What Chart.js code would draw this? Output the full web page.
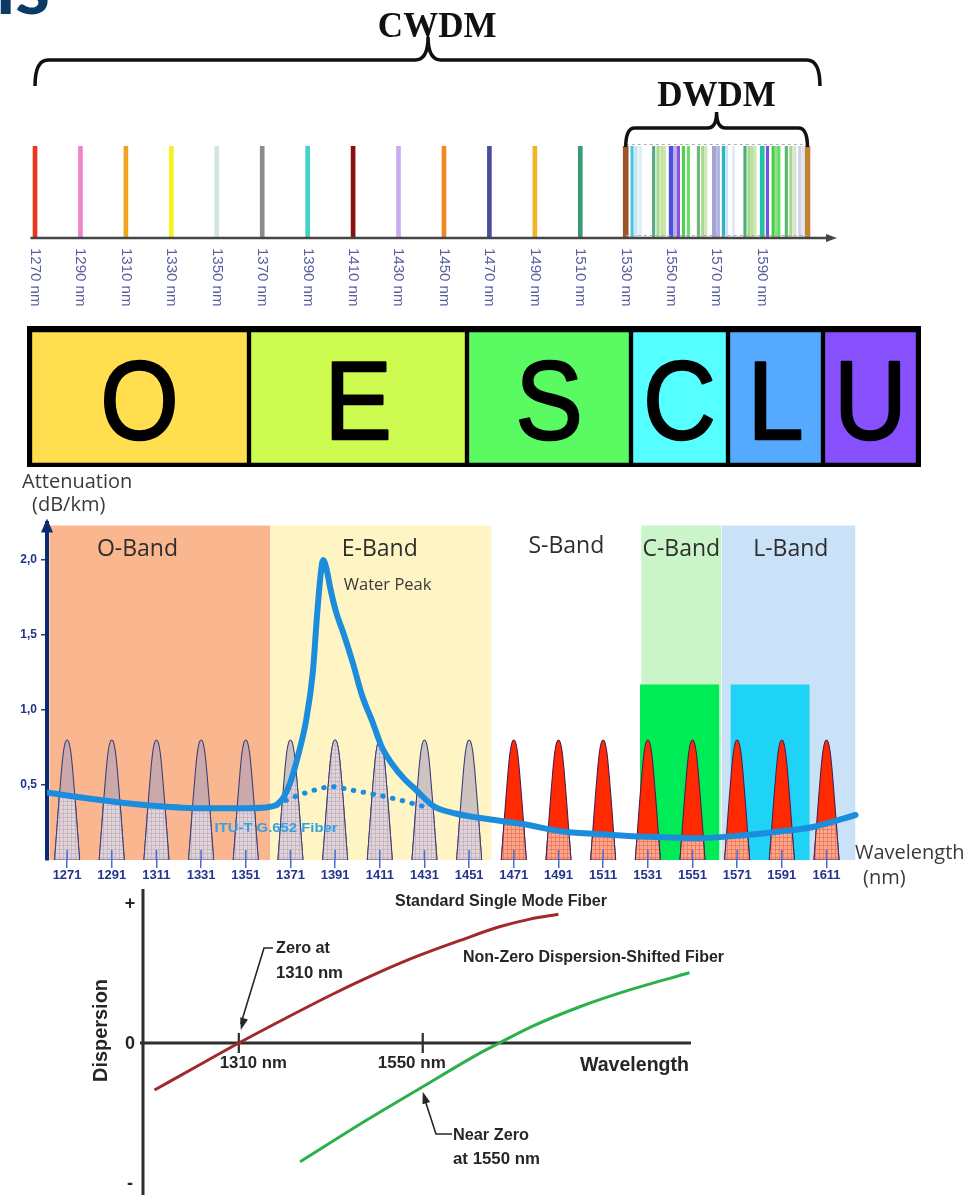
<!DOCTYPE html>
<html>
<head>
<meta charset="utf-8">
<title>Optical fiber wavelength bands</title>
<script src="https://cdn.jsdelivr.net/npm/chart.js@4.4.1/dist/chart.umd.min.js"></script>
<style>
  html, body { margin: 0; padding: 0; background: #ffffff; }
  #page { position: relative; width: 971px; height: 1195px; overflow: hidden; background: #ffffff; }
  #page canvas { position: absolute; left: 0; }
</style>
</head>
<body>
<div id="page">
  <canvas id="grid" width="971" height="320" style="top:0px"></canvas>
  <canvas id="bands" width="971" height="145" style="top:325px"></canvas>
  <canvas id="atten" width="971" height="425" style="top:470px"></canvas>
  <canvas id="disp" width="971" height="308" style="top:889px"></canvas>
</div>
<script>
// ---------- CWDM / DWDM channel grid ----------
const cwdmNm = [1270, 1290, 1310, 1330, 1350, 1370, 1390, 1410, 1430, 1450, 1470, 1490, 1510];
const cwdmColors = ['#e8361f', '#f083cc', '#f0a522', '#f6f21e', '#cfe6e2', '#8c8c8c', '#3fd2c9',
                    '#8a1010', '#c9adf0', '#ef8a1e', '#4b4c9a', '#f0b426', '#3a9a72'];
const gridTickNm = [1270, 1290, 1310, 1330, 1350, 1370, 1390, 1410, 1430, 1450, 1470, 1490, 1510,
                    1530, 1550, 1570, 1590];
const dwdmEdgeNm = [1530, 1610];
const dwdmEdgeColors = ['#9b5526', '#c08332'];
const dwdmNm = [1532.8, 1534.5, 1536.4, 1542.3, 1544.2, 1545.9, 1547.1, 1551.8, 1553.2, 1555.4,
                1557.6, 1562.0, 1563.9, 1565.2, 1570.8, 1573.0, 1574.4, 1577.4, 1582.5, 1584.3,
                1585.7, 1586.9, 1592.4, 1594.9, 1596.4, 1597.4, 1600.7, 1602.7, 1604.4, 1606.6, 1608.1];
const dwdmColors = ['#4cc6e0', '#bfe6f2', '#dcecf2', '#5aa97a', '#a9d88f', '#bfe3a0', '#cfe6a8',
                    '#b8b0ec', '#8b4ee0', '#4fd24f', '#66e066', '#6fb872', '#a8d890', '#cfe8b8',
                    '#b4b4e2', '#2fb2c4', '#c6e4f0', '#e4ecf4', '#4fae72', '#a8d890', '#b8e29a',
                    '#d0e8b8', '#7a50e0', '#3fd240', '#9ad890', '#5fe060', '#5cb870', '#a8d890',
                    '#d4e6c8', '#cfd0ee', '#e0e4f0'];
const dwdmWideNm = [1550.0, 1569.0, 1590.1];
const dwdmWideColors = ['#4c52e0', '#a3a3d6', '#22c3a5'];

// ---------- spectral band strip ----------
const bandLetters = ['O', 'E', 'S', 'C', 'L', 'U'];
const bandSpan = [2.19, 2.18, 1.64, 0.97, 0.95, 0.95];
const bandColors = ['#ffde4f', '#cdfb4f', '#5afa63', '#55ffff', '#55aaff', '#8750ff'];

// ---------- attenuation chart ----------
const channelNm = [1271, 1291, 1311, 1331, 1351, 1371, 1391, 1411, 1431, 1451,
                   1471, 1491, 1511, 1531, 1551, 1571, 1591, 1611];
const attenTickDb = [0.5, 1.0, 1.5, 2.0];
const peakDb = 0.8;
const peakOffsetNm = [-5.6, -4.6, -3.6, -2.5, -1.65, -0.8, 0, 0.8, 1.65, 2.5, 3.6, 4.6, 5.6];
const peakShape = [0, 0.25, 0.5, 0.75, 0.9, 0.98, 1, 0.98, 0.9, 0.75, 0.5, 0.25, 0];
const bandNames = ['O-Band', 'E-Band', 'S-Band', 'C-Band', 'L-Band'];
const bandFromNm = [1263, 1362, 1461, 1528, 1564];
const bandToNm = [1362, 1461, 1528, 1564, 1624];
const bandShade = ['#f9b68f', '#fef4c4', null, '#c9f5c9', '#c9e2f8'];
const bandTopDb = 2.23;
const bandLabelNm = [1302.5, 1411, 1494.5, 1546, 1595];
const bandLabelDb = [2.067, 2.067, 2.09, 2.067, 2.067];
const ampFromNm = [1527.5, 1568];
const ampToNm = [1563, 1603.5];
const ampTopDb = 1.17;
const ampColors = ['#00ec57', '#1fd3f7'];
const fiberNm = [1262, 1271, 1291, 1311, 1331, 1351, 1362, 1365, 1368, 1371, 1375, 1378, 1381,
                 1383, 1384.5, 1385.6, 1387, 1389, 1391.5, 1395, 1399, 1403, 1408, 1412, 1417,
                 1422, 1427, 1435, 1445, 1456, 1475, 1493, 1512, 1530, 1553, 1575, 1590, 1605, 1624];
const fiberDb = [0.45, 0.43, 0.39, 0.36, 0.345, 0.345, 0.355, 0.37, 0.42, 0.52, 0.73, 0.93, 1.25,
                 1.65, 1.9, 2.0, 1.95, 1.8, 1.65, 1.5, 1.31, 1.1, 0.91, 0.75, 0.63,
                 0.54, 0.47, 0.36, 0.31, 0.28, 0.24, 0.19, 0.17, 0.155, 0.145, 0.167, 0.19, 0.22, 0.30];
const lowWaterNm = [1365, 1368, 1375, 1383, 1389, 1398, 1410, 1420, 1431];
const lowWaterDb = [0.365, 0.39, 0.433, 0.471, 0.489, 0.467, 0.433, 0.40, 0.355];

// ---------- dispersion chart ----------
const ssmfNm = [1200, 1259, 1310, 1368, 1433, 1490, 1542, 1600, 1650, 1690, 1727];
const ssmfVal = [-0.336, -0.155, 0, 0.168, 0.35, 0.497, 0.618, 0.735, 0.83, 0.885, 0.919];
const nzdsfNm = [1390, 1477, 1550, 1624, 1650, 1690, 1755, 1820, 1898];
const nzdsfVal = [-0.848, -0.55, -0.312, -0.074, 0.0, 0.112, 0.259, 0.379, 0.502];
const dispTickNm = [1310, 1550];
const dispTickText = ['1310 nm', '1550 nm'];
const dispLevel = [1, 0, -1];
const dispLevelText = ['+', '0', '-'];

const SANS = 'Arial, "Liberation Sans", sans-serif';
const OPEN = '"Open Sans", "Noto Sans", sans-serif';
Chart.defaults.font.family = SANS;

// text squeezed horizontally into a given width (condensed look)
function fitText(ctx, text, left, midY, font, color, width) {
  ctx.save();
  ctx.font = font;
  ctx.fillStyle = color;
  ctx.textAlign = 'left';
  ctx.textBaseline = 'middle';
  const w = ctx.measureText(text).width;
  ctx.translate(left, midY);
  ctx.scale(width / w, 1);
  ctx.fillText(text, 0, 0);
  ctx.restore();
}

function brace(ctx, xa, xb, xm, yLine, yEnd, yTip, r) {
  ctx.beginPath();
  ctx.moveTo(xa, yEnd);
  ctx.quadraticCurveTo(xa, yLine, xa + r, yLine);
  ctx.lineTo(xm - r, yLine);
  ctx.quadraticCurveTo(xm, yLine, xm, yTip);
  ctx.quadraticCurveTo(xm, yLine, xm + r, yLine);
  ctx.lineTo(xb - r, yLine);
  ctx.quadraticCurveTo(xb, yLine, xb, yEnd);
  ctx.stroke();
}

function arrowHead(ctx, fromX, fromY, tipX, tipY, len, half) {
  const a = Math.atan2(tipY - fromY, tipX - fromX);
  ctx.beginPath();
  ctx.moveTo(tipX, tipY);
  ctx.lineTo(tipX - len * Math.cos(a) + half * Math.sin(a), tipY - len * Math.sin(a) - half * Math.cos(a));
  ctx.lineTo(tipX - len * Math.cos(a) - half * Math.sin(a), tipY - len * Math.sin(a) + half * Math.cos(a));
  ctx.closePath();
  ctx.fill();
}

const baseOptions = {
  responsive: false,
  animation: false,
  devicePixelRatio: 1,
  events: [],
  plugins: { legend: { display: false }, tooltip: { enabled: false } }
};

// ======================= 1. channel grid =======================
const gridDecor = {
  id: 'gridDecor',
  afterDraw(chart) {
    const ctx = chart.ctx;
    const px = v => chart.scales.x.getPixelForValue(v);
    const y0 = chart.scales.y.getPixelForValue(0);
    const y1 = chart.scales.y.getPixelForValue(1);
    ctx.save();

    // tail of the page heading above
    ctx.fillStyle = '#0c3a66';
    ctx.font = 'bold 80px Lato, "Open Sans", sans-serif';
    ctx.textBaseline = 'alphabetic';
    ctx.fillText('ns', -30, 14);

    // DWDM dashed frame
    ctx.setLineDash([3, 3]);
    ctx.strokeStyle = '#b4a9bd';
    ctx.lineWidth = 1.2;
    ctx.beginPath();
    ctx.moveTo(px(1530), y1 - 1.5); ctx.lineTo(px(1610), y1 - 1.5);
    ctx.moveTo(px(1530), y0 - 2.5); ctx.lineTo(px(1610), y0 - 2.5);
    ctx.stroke();
    ctx.setLineDash([]);

    // wavelength axis with arrow
    ctx.strokeStyle = '#454545';
    ctx.fillStyle = '#454545';
    ctx.lineWidth = 2.5;
    ctx.beginPath();
    ctx.moveTo(px(1268), y0);
    ctx.lineTo(px(1620), y0);
    ctx.stroke();
    arrowHead(ctx, px(1600), y0, px(1623), y0, 11, 4);

    // braces
    ctx.strokeStyle = '#111';
    ctx.lineWidth = 3.5;
    brace(ctx, px(1270), px(1615.5), px(1443), 60, 86, 37, 13);
    brace(ctx, px(1530), px(1610), px(1570), 128, 147, 112, 9);

    ctx.fillStyle = '#111';
    ctx.font = 'bold 35px "Liberation Serif", "Times New Roman", serif';
    ctx.textAlign = 'center';
    ctx.fillText('CWDM', px(1447), 37);
    ctx.fillText('DWDM', px(1570), 106);

    // channel labels, rotated to read top-down
    ctx.fillStyle = '#5b5f9e';
    ctx.font = '15px ' + SANS;
    ctx.textAlign = 'left';
    ctx.textBaseline = 'middle';
    gridTickNm.forEach(nm => {
      ctx.save();
      ctx.translate(px(nm), y0 + 10);
      ctx.rotate(Math.PI / 2);
      ctx.fillText(nm + ' nm', 0, 0);
      ctx.restore();
    });
    ctx.restore();
  }
};

new Chart(document.getElementById('grid'), {
  type: 'bar',
  data: {
    datasets: [
      { data: cwdmNm.map(n => ({ x: n, y: 1 })), backgroundColor: cwdmColors, barThickness: 4 },
      { data: dwdmNm.map(n => ({ x: n, y: 1 })), backgroundColor: dwdmColors, barThickness: 2.5 },
      { data: dwdmWideNm.map(n => ({ x: n, y: 1 })), backgroundColor: dwdmWideColors, barThickness: 4 },
      { data: dwdmEdgeNm.map(n => ({ x: n, y: 1 })), backgroundColor: dwdmEdgeColors, barThickness: 5 }
    ]
  },
  options: {
    ...baseOptions,
    grouped: false,
    layout: { padding: { left: 12.3, right: 4.5, top: 146, bottom: 82 } },
    scales: {
      x: { type: 'linear', min: 1260, max: 1680, offset: false, display: false },
      y: { min: 0, max: 1, display: false }
    }
  },
  plugins: [gridDecor]
});

// ======================= 2. band strip =======================
const stripDecor = {
  id: 'stripDecor',
  beforeDatasetsDraw(chart) {
    const { ctx, chartArea: a } = chart;
    ctx.save();
    ctx.fillStyle = '#000';
    ctx.fillRect(a.left - 3, a.top - 4, a.right - a.left + 6, a.bottom - a.top + 6);
    ctx.restore();
  },
  afterDatasetsDraw(chart) {
    const ctx = chart.ctx;
    ctx.save();
    ctx.fillStyle = '#000';
    ctx.strokeStyle = '#000';
    ctx.lineWidth = 2.4;
    ctx.lineJoin = 'round';
    ctx.font = '112px "Liberation Sans", Arial, sans-serif';
    ctx.textAlign = 'center';
    ctx.textBaseline = 'alphabetic';
    bandLetters.forEach((letter, i) => {
      const bar = chart.getDatasetMeta(i).data[0];
      ctx.save();
      ctx.translate((bar.x + bar.base) / 2, bar.y + 41);
      ctx.scale(0.9, 1);
      ctx.fillText(letter, 0, 0);
      ctx.strokeText(letter, 0, 0);
      ctx.restore();
    });
    ctx.restore();
  }
};

new Chart(document.getElementById('bands'), {
  type: 'bar',
  data: {
    labels: ['bands'],
    datasets: bandLetters.map((b, i) => ({
      label: b,
      data: [bandSpan[i]],
      backgroundColor: bandColors[i],
      borderColor: '#000',
      borderWidth: 2.5,
      borderSkipped: false,
      barPercentage: 1,
      categoryPercentage: 1
    }))
  },
  options: {
    ...baseOptions,
    indexAxis: 'y',
    layout: { padding: { left: 30, right: 53, top: 5, bottom: 5 } },
    scales: {
      x: { stacked: true, min: 0, max: bandSpan.reduce((s, v) => s + v, 0), display: false },
      y: { stacked: true, display: false }
    }
  },
  plugins: [stripDecor]
});

// ======================= 3. attenuation =======================
let grayUnder = null, redUnder = null;
function gridPattern(ctx, base, line) {
  const c = document.createElement('canvas');
  c.width = 4; c.height = 4;
  const g = c.getContext('2d');
  g.fillStyle = base; g.fillRect(0, 0, 4, 4);
  g.fillStyle = line; g.fillRect(3, 0, 1, 4); g.fillRect(0, 3, 4, 1);
  return ctx.createPattern(c, 'repeat');
}

const attenSets = [];
bandNames.forEach((name, i) => {
  if (!bandShade[i]) return;
  attenSets.push({
    role: 'band', order: 10,
    data: [{ x: bandFromNm[i], y: 0 }, { x: bandFromNm[i], y: bandTopDb },
           { x: bandToNm[i], y: bandTopDb }, { x: bandToNm[i], y: 0 }],
    backgroundColor: bandShade[i], borderWidth: 0, fill: 'origin', tension: 0, pointRadius: 0
  });
});
ampColors.forEach((col, i) => {
  attenSets.push({
    role: 'amp', order: 9,
    data: [{ x: ampFromNm[i], y: 0 }, { x: ampFromNm[i], y: ampTopDb },
           { x: ampToNm[i], y: ampTopDb }, { x: ampToNm[i], y: 0 }],
    backgroundColor: col, borderWidth: 0, fill: 'origin', tension: 0, pointRadius: 0
  });
});
channelNm.forEach(ch => {
  const red = ch > 1460;
  attenSets.push({
    role: 'peak', red, order: 5,
    data: peakOffsetNm.map((o, k) => ({ x: ch + o, y: peakDb * peakShape[k] })),
    backgroundColor: red ? '#ff2a00' : 'rgba(168,160,192,0.58)',
    borderColor: red ? '#4a1f55' : '#3e3e78',
    borderWidth: 1.1, fill: 'origin', cubicInterpolationMode: 'monotone', pointRadius: 0
  });
});
attenSets.push({
  role: 'dotted', order: 2,
  data: lowWaterNm.map((n, i) => ({ x: n, y: lowWaterDb[i] })),
  borderColor: '#1c8ddc', borderWidth: 5, borderDash: [0.5, 9.5], borderCapStyle: 'round',
  fill: false, cubicInterpolationMode: 'monotone', pointRadius: 0
});
attenSets.push({
  role: 'curve', order: 1,
  data: fiberNm.map((n, i) => ({ x: n, y: fiberDb[i] })),
  borderColor: '#1c8ddc', borderWidth: 6, borderCapStyle: 'round', borderJoinStyle: 'round',
  fill: false, cubicInterpolationMode: 'monotone', pointRadius: 0
});

const attenDecor = {
  id: 'attenDecor',
  beforeDatasetDraw(chart, args) {
    const ds = chart.data.datasets[args.index];
    if (ds.role !== 'dotted') return;
    // lighter, gridded part of each channel below the fiber loss curve
    const ctx = chart.ctx, area = chart.chartArea;
    if (!grayUnder) {
      grayUnder = gridPattern(ctx, '#e2d5da', '#c8b6c2');
      redUnder = gridPattern(ctx, '#f9a98e', '#f17c60');
    }
    const curveIdx = chart.data.datasets.findIndex(d => d.role === 'curve');
    const curve = chart.getDatasetMeta(curveIdx).dataset;
    curve.updateControlPoints(area, 'x');
    const pts = curve.points;
    ctx.save();
    ctx.beginPath();
    curve.path(ctx);
    ctx.lineTo(pts[pts.length - 1].x, area.bottom);
    ctx.lineTo(pts[0].x, area.bottom);
    ctx.closePath();
    ctx.clip();
    chart.data.datasets.forEach((d, i) => {
      if (d.role !== 'peak') return;
      const line = chart.getDatasetMeta(i).dataset;
      line.updateControlPoints(area, 'x');
      ctx.beginPath();
      line.path(ctx);
      ctx.closePath();
      ctx.fillStyle = d.red ? redUnder : grayUnder;
      ctx.fill();
      ctx.strokeStyle = d.borderColor;
      ctx.lineWidth = 1;
      ctx.stroke();
    });
    ctx.restore();
  },
  afterDraw(chart) {
    const ctx = chart.ctx, a = chart.chartArea;
    const px = v => chart.scales.x.getPixelForValue(v);
    const py = v => chart.scales.y.getPixelForValue(v);
    ctx.save();
    // upper halves of the channel tick marks
    ctx.strokeStyle = '#3f6fd2';
    ctx.lineWidth = 1.5;
    ctx.beginPath();
    channelNm.forEach(ch => { ctx.moveTo(px(ch), a.bottom); ctx.lineTo(px(ch), a.bottom - 10); });
    ctx.stroke();

    // arrow tip of the attenuation axis
    ctx.fillStyle = '#0b2a6f';
    ctx.beginPath();
    ctx.moveTo(a.left, a.top - 4);
    ctx.lineTo(a.left - 6, a.top + 10);
    ctx.lineTo(a.left + 6, a.top + 10);
    ctx.closePath();
    ctx.fill();

    // axis captions
    ctx.fillStyle = '#3a3a3a';
    ctx.font = '20px ' + OPEN;
    ctx.textBaseline = 'middle';
    ctx.textAlign = 'left';
    ctx.fillText('Attenuation', 22, 12);
    ctx.fillText('(dB/km)', 32, 35);
    ctx.fillText('Wavelength', 855, 383);
    ctx.fillText('(nm)', 863, 408);

    // band names
    ctx.fillStyle = '#2e2e2e';
    ctx.font = '23px ' + OPEN;
    ctx.textAlign = 'center';
    bandNames.forEach((name, i) => ctx.fillText(name, px(bandLabelNm[i]), py(bandLabelDb[i])));

    ctx.fillStyle = '#3a3a3a';
    ctx.font = '16.5px ' + OPEN;
    ctx.fillText('Water Peak', px(1414.5), py(1.833));

    fitText(ctx, 'ITU-T G.652 Fiber', px(1337), py(0.213), 'bold 13px ' + SANS, '#2ea3e8', 123);
    ctx.restore();
  }
};

new Chart(document.getElementById('atten'), {
  type: 'line',
  data: { datasets: attenSets },
  options: {
    ...baseOptions,
    layout: { padding: { top: 52.5, right: 111, bottom: 0, left: 0 } },
    elements: { point: { radius: 0 } },
    scales: {
      x: {
        type: 'linear', min: 1262, max: 1626,
        afterBuildTicks: s => { s.ticks = channelNm.map(v => ({ value: v })); },
        afterFit: s => { s.height = 35; s.paddingLeft = 0; s.paddingRight = 0; },
        border: { display: false },
        grid: { drawOnChartArea: false, tickLength: 8, color: '#3f6fd2', lineWidth: 1.5 },
        ticks: {
          autoSkip: false, maxRotation: 0, minRotation: 0, padding: 0, color: '#24338c',
          font: { family: SANS, weight: 'bold', size: 13 },
          callback: v => String(v)
        }
      },
      y: {
        min: 0, max: 2.25,
        afterBuildTicks: s => { s.ticks = attenTickDb.map(v => ({ value: v })); },
        afterFit: s => { s.width = 47; s.paddingTop = 0; s.paddingBottom = 0; },
        border: { display: true, color: '#0b2a6f', width: 4 },
        grid: { drawOnChartArea: false, tickLength: 6, color: '#2b3a93', lineWidth: 1.5 },
        ticks: {
          padding: 4, color: '#24338c',
          font: { family: SANS, weight: 'bold', size: 12 },
          callback: v => Number(v).toFixed(1).replace('.', ',')
        }
      }
    }
  },
  plugins: [attenDecor]
});

// ======================= 4. dispersion =======================
const dispDecor = {
  id: 'dispDecor',
  beforeDatasetsDraw(chart) {
    const ctx = chart.ctx, a = chart.chartArea;
    const px = v => chart.scales.x.getPixelForValue(v);
    const py = v => chart.scales.y.getPixelForValue(v);
    ctx.save();
    ctx.strokeStyle = '#2e2e2e';
    ctx.lineWidth = 3;
    ctx.beginPath();
    ctx.moveTo(a.left, a.top); ctx.lineTo(a.left, a.bottom);
    ctx.moveTo(a.left - 3, py(0)); ctx.lineTo(a.right, py(0));
    ctx.stroke();
    ctx.lineWidth = 2.2;
    ctx.beginPath();
    dispTickNm.forEach(nm => { ctx.moveTo(px(nm), py(0) - 10); ctx.lineTo(px(nm), py(0) + 10); });
    ctx.stroke();
    ctx.restore();
  },
  afterDraw(chart) {
    const ctx = chart.ctx, a = chart.chartArea;
    const px = v => chart.scales.x.getPixelForValue(v);
    const py = v => chart.scales.y.getPixelForValue(v);
    const ink = '#262626';
    const B = s => 'bold ' + s + 'px ' + SANS;
    ctx.save();

    // level marks on the dispersion axis
    ctx.fillStyle = ink;
    ctx.font = B(18);
    ctx.textAlign = 'center';
    ctx.textBaseline = 'middle';
    dispLevel.forEach((v, i) => ctx.fillText(dispLevelText[i], a.left - 13, py(v) + 1));

    // wavelength marks
    fitText(ctx, dispTickText[0], px(1310) - 19, py(0) + 20, B(17), ink, 67);
    fitText(ctx, dispTickText[1], px(1550) - 45, py(0) + 20, B(17), ink, 68);
    fitText(ctx, 'Wavelength', a.right - 111, py(0) + 22, B(20), ink, 109);

    // axis title
    ctx.save();
    ctx.translate(101, py(0) - 12);
    ctx.rotate(-Math.PI / 2);
    fitText(ctx, 'Dispersion', -51, 0, B(20), ink, 103);
    ctx.restore();

    // curve names
    fitText(ctx, 'Standard Single Mode Fiber', 395, 13, B(16), ink, 212);
    fitText(ctx, 'Non-Zero Dispersion-Shifted Fiber', 463, 69, B(16), ink, 261);

    // zero-dispersion callouts
    fitText(ctx, 'Zero at', 276, 59, B(17), ink, 54);
    fitText(ctx, '1310 nm', 276, 84, B(17), ink, 67);
    fitText(ctx, 'Near Zero', 453, 246, B(17), ink, 76);
    fitText(ctx, 'at 1550 nm', 453, 270, B(17), ink, 87);

    ctx.strokeStyle = ink;
    ctx.fillStyle = ink;
    ctx.lineWidth = 1.6;
    const tip1x = px(1310) + 2, tip1y = py(0) - 13;
    ctx.beginPath();
    ctx.moveTo(273, 59); ctx.lineTo(264, 59); ctx.lineTo(tip1x, tip1y - 6);
    ctx.stroke();
    arrowHead(ctx, 264, 59, tip1x, tip1y, 12, 4);

    const tip2x = px(1550), tip2y = py(-0.312) + 5;
    ctx.beginPath();
    ctx.moveTo(452, 245); ctx.lineTo(436, 245); ctx.lineTo(tip2x + 1.5, tip2y + 6);
    ctx.stroke();
    arrowHead(ctx, 436, 245, tip2x, tip2y, 12, 4);
    ctx.restore();
  }
};

new Chart(document.getElementById('disp'), {
  type: 'line',
  data: {
    datasets: [
      {
        label: 'Standard Single Mode Fiber',
        data: ssmfNm.map((n, i) => ({ x: n, y: ssmfVal[i] })),
        borderColor: '#a3282b', borderWidth: 3, pointRadius: 0,
        cubicInterpolationMode: 'monotone', fill: false
      },
      {
        label: 'Non-Zero Dispersion-Shifted Fiber',
        data: nzdsfNm.map((n, i) => ({ x: n, y: nzdsfVal[i] })),
        borderColor: '#2bb04b', borderWidth: 3, pointRadius: 0,
        cubicInterpolationMode: 'monotone', fill: false
      }
    ]
  },
  options: {
    ...baseOptions,
    layout: { padding: { left: 143, right: 280, top: 0, bottom: 0 } },
    scales: {
      x: { type: 'linear', min: 1185, max: 1900, display: false },
      y: { min: -1.1, max: 1.1, display: false }
    }
  },
  plugins: [dispDecor]
});
</script>
</body>
</html>
